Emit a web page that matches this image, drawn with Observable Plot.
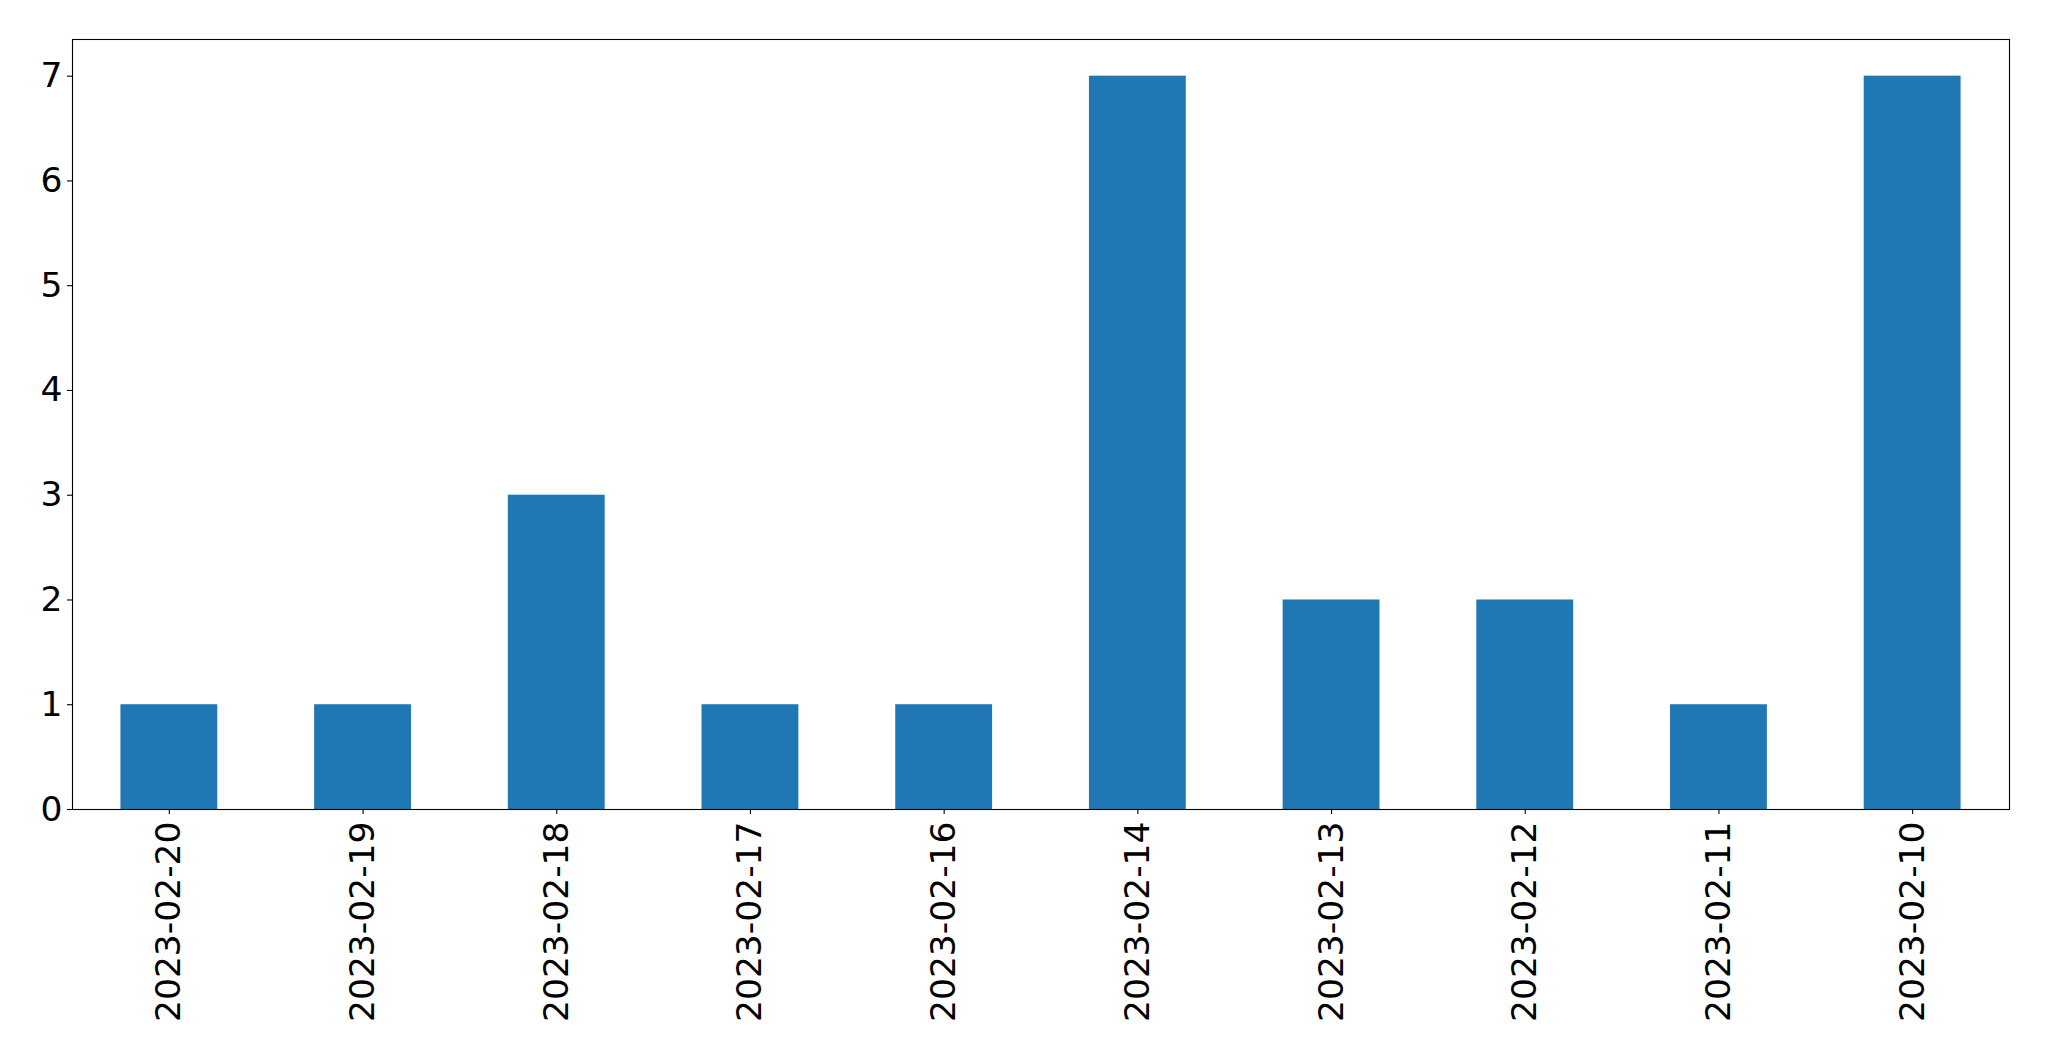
<!DOCTYPE html>
<html>
<head>
<meta charset="utf-8">
<script src="https://cdn.jsdelivr.net/npm/d3@7"></script>
<script src="https://cdn.jsdelivr.net/npm/@observablehq/plot@0.6"></script>
<style>
  html, body { margin: 0; padding: 0; background: #fff; }
</style>
</head>
<body>
<div id="chart"></div>
<script>
const dates = ["2023-02-20", "2023-02-19", "2023-02-18", "2023-02-17", "2023-02-16", "2023-02-14", "2023-02-13", "2023-02-12", "2023-02-11", "2023-02-10"];
const counts = [1, 1, 3, 1, 1, 7, 2, 2, 1, 7];
const yTicks = [0, 1, 2, 3, 4, 5, 6, 7];

const data = dates.map((d, i) => ({date: d, count: counts[i]}));

const chart = Plot.plot({
  width: 2049,
  height: 1061,
  marginTop: 39,
  marginBottom: 252,
  marginLeft: 72,
  marginRight: 40,
  style: {fontFamily: "DejaVu Sans", fontSize: "34.5px", color: "black", background: "white"},
  x: {domain: dates, paddingInner: 0.5, paddingOuter: 0.25, round: false, label: null},
  y: {domain: [0, 7.35], label: null},
  marks: [
    Plot.barY(data, {x: "date", y: "count", fill: "#1f77b4"}),
    Plot.axisY({ticks: yTicks, tickSize: 5, tickPadding: 5, label: null, fontSize: 34.5, stroke: "black", strokeWidth: 1.1}),
    Plot.axisX({tickSize: 5, tickPadding: 7, tickRotate: -90, label: null, fontSize: 34.5, stroke: "black", strokeWidth: 1.1}),
    Plot.frame({stroke: "black", strokeWidth: 1.1})
  ]
});
document.getElementById("chart").appendChild(chart);
</script>
</body>
</html>
